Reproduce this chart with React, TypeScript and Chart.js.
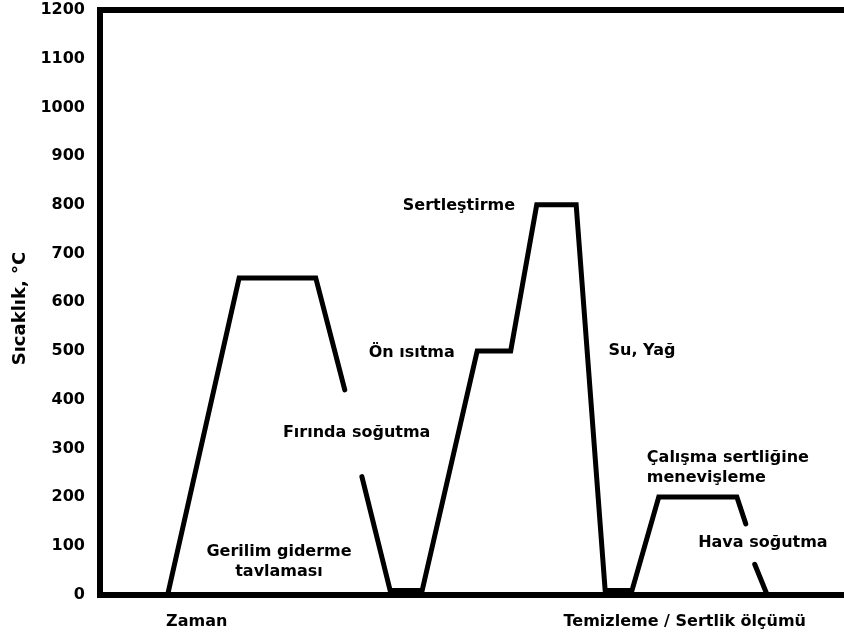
import React, { useEffect, useRef } from "react";
import { Chart, registerables } from "chart.js";

Chart.register(...registerables);

// Time axis (arbitrary units) and temperature (°C) for each process segment
const annealTime = [9.1, 18.7, 29.0, 32.9];
const annealTemp = [0, 650, 650, 420];

const hardenTime = [35.2, 39.0, 43.3, 50.7, 55.2, 58.7, 64.0, 67.9, 71.5, 75.1, 85.6, 86.8];
const hardenTemp = [242, 8, 8, 500, 500, 800, 800, 8, 8, 200, 200, 145];

const airCoolTime = [88.0, 89.65];
const airCoolTemp = [62, 0];

const yTicks = [0, 100, 200, 300, 400, 500, 600, 700, 800, 900, 1000, 1100, 1200];
const xTickValues = [13.0, 78.6];
const xTickLabels = ["Zaman", "Temizleme / Sertlik ölçümü"];

const noteTexts = [
  ["Gerilim giderme", "tavlaması"],
  ["Fırında soğutma"],
  ["Ön ısıtma"],
  ["Sertleştirme"],
  ["Su, Yağ"],
  ["Çalışma sertliğine", "menevişleme"],
  ["Hava soğutma"],
];
const noteTime = [24.06, 34.5, 41.9, 48.25, 72.85, 73.5, 89.1];
const noteTemp = [87, 332, 496, 798, 500, 280, 106];
const noteAlign = ["center", "center", "center", "center", "center", "left", "center"];

const FONT = "'DejaVu Sans', Verdana, sans-serif";
const FS = 16;

const toPoints = (xs: number[], ys: number[]) => xs.map((x, i) => ({ x, y: ys[i] }));

const notesPlugin = {
  id: "notes",
  afterDatasetsDraw(chart: any) {
    const { ctx, scales, chartArea } = chart;
    ctx.save();
    ctx.fillStyle = "#000";
    ctx.font = `bold ${FS}px ${FONT}`;
    ctx.textBaseline = "middle";
    noteTexts.forEach((lines, i) => {
      const px = scales.x.getPixelForValue(noteTime[i]);
      const py = scales.y.getPixelForValue(noteTemp[i]);
      ctx.textAlign = noteAlign[i];
      lines.forEach((t, j) => ctx.fillText(t, px, py + j * 20));
    });
    // top frame line
    ctx.strokeStyle = "#000";
    ctx.lineWidth = 6;
    ctx.beginPath();
    ctx.moveTo(chartArea.left - 3, chartArea.top);
    ctx.lineTo(chart.width, chartArea.top);
    ctx.stroke();
    ctx.restore();
  },
};

export default function App() {
  const ref = useRef<HTMLCanvasElement>(null);
  useEffect(() => {
    document.body.style.margin = "0";
    const lineStyle = {
      borderColor: "#000",
      borderWidth: 5,
      pointRadius: 0,
      showLine: true,
      tension: 0,
      borderJoinStyle: "miter" as const,
      borderCapStyle: "round" as const,
      fill: false,
    };
    const chart = new Chart(ref.current!, {
      type: "scatter",
      data: {
        datasets: [
          { ...lineStyle, label: "Gerilim giderme", data: toPoints(annealTime, annealTemp) },
          { ...lineStyle, label: "Sertleştirme", data: toPoints(hardenTime, hardenTemp) },
          { ...lineStyle, label: "Hava soğutma", data: toPoints(airCoolTime, airCoolTemp) },
        ],
      },
      options: {
        animation: false,
        responsive: false,
        layout: { padding: { top: 10, right: 0, left: 0, bottom: 0 } },
        plugins: { legend: { display: false }, tooltip: { enabled: false } },
        scales: {
          x: {
            type: "linear",
            min: 0,
            max: 100,
            grid: { display: false, drawTicks: false },
            border: { display: true, color: "#000", width: 6 },
            afterBuildTicks: (s: any) => {
              s.ticks = xTickValues.map((v) => ({ value: v }));
            },
            afterFit: (s: any) => {
              s.height = 41.5;
              s.paddingLeft = 0;
              s.paddingRight = 0;
            },
            ticks: {
              color: "#000",
              padding: 18,
              maxRotation: 0,
              autoSkip: false,
              font: { family: FONT, size: FS, weight: "bold" },
              callback: (v: any) => {
                const i = xTickValues.indexOf(Number(v));
                return i >= 0 ? xTickLabels[i] : "";
              },
            },
          },
          y: {
            type: "linear",
            min: 0,
            max: 1200,
            grid: { display: false, drawTicks: false },
            border: { display: true, color: "#000", width: 6 },
            afterBuildTicks: (s: any) => {
              s.ticks = yTicks.map((v) => ({ value: v }));
            },
            afterFit: (s: any) => {
              s.width = 100;
              s.paddingTop = 0;
              s.paddingBottom = 0;
            },
            title: {
              display: true,
              text: "Sıcaklık, °C\u00A0\u00A0",
              color: "#000",
              padding: { top: 10, bottom: 0 },
              font: { family: FONT, size: 18, weight: "bold" },
            },
            ticks: {
              color: "#000",
              padding: 15,
              font: { family: FONT, size: FS, weight: "bold" },
              callback: (v: any) => String(v),
            },
          },
        },
      },
      plugins: [notesPlugin],
    });
    return () => chart.destroy();
  }, []);
  return (
    <div style={{ width: 844, height: 636, background: "#fff" }}>
      <canvas ref={ref} width={844} height={636} style={{ display: "block" }} />
    </div>
  );
}
